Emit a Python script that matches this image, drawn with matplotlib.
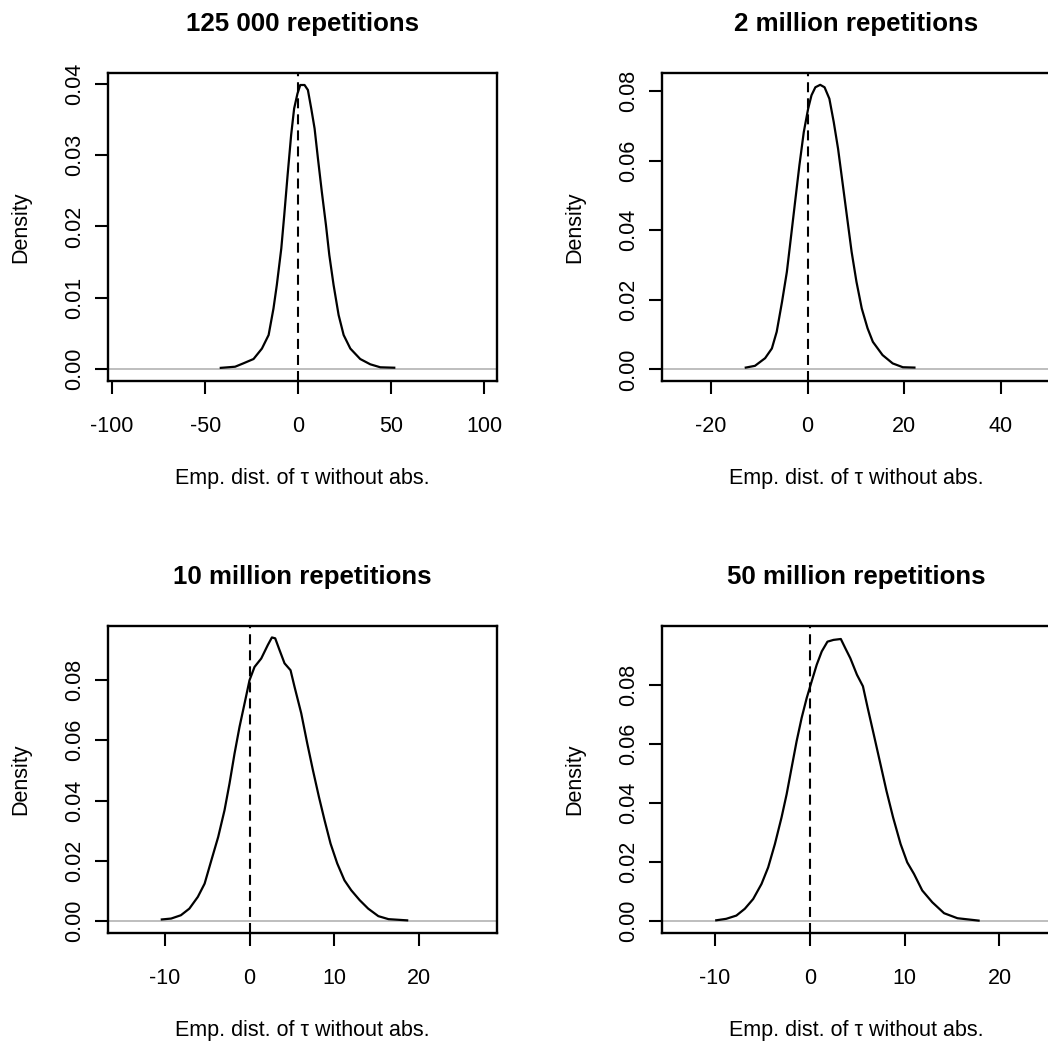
import numpy as np
import matplotlib
matplotlib.use("Agg")
from matplotlib import pyplot as plt

plt.rcParams['font.family'] = ['Liberation Sans', 'DejaVu Sans']
plt.rcParams['axes.unicode_minus'] = False

# Density estimates of tau (no absolute value) for each number of repetitions
titles = ["125 000 repetitions", "2 million repetitions",
          "10 million repetitions", "50 million repetitions"]

x_125k = [-41.6, -33.9, -29.4, -24.0, -19.5, -15.9, -13.3, -11.5, -9.1, -7.5, -5.7, -3.8,
          -2.2, -0.4, 1.1, 3.4, 5.2, 7.0, 8.8, 10.6, 12.7, 14.9, 16.7, 19.0, 21.7, 24.4,
          28.0, 33.3, 38.7, 44.1, 51.6]
y_125k = [0.0002, 0.00036, 0.00084, 0.00144, 0.0029, 0.0048, 0.0085, 0.0118, 0.0169, 0.0216,
          0.0272, 0.0328, 0.0365, 0.0386, 0.0398, 0.0398, 0.0391, 0.0365, 0.0337, 0.0295,
          0.0248, 0.0202, 0.016, 0.0118, 0.0076, 0.0048, 0.0029, 0.00144, 0.0007, 0.00028,
          0.00022]

x_2m = [-12.8, -10.9, -8.8, -7.4, -6.4, -5.3, -4.3, -3.4, -2.6, -1.7, -0.8, 0.1, 0.8, 1.6,
        2.6, 3.5, 4.5, 5.4, 6.3, 7.2, 8.2, 9.1, 10.1, 11.2, 12.4, 13.5, 15.5, 17.6, 19.7, 22.1]
y_2m = [0.0005, 0.001, 0.0032, 0.006, 0.0108, 0.0194, 0.028, 0.0386, 0.0481, 0.0587, 0.0682,
        0.0749, 0.0788, 0.0811, 0.0818, 0.0811, 0.0778, 0.0711, 0.0634, 0.0539, 0.0433,
        0.0338, 0.0252, 0.0175, 0.0118, 0.0079, 0.0041, 0.0017, 0.0006, 0.0005]

x_10m = [-10.35, -9.25, -8.1, -7.1, -6.1, -5.3, -4.5, -3.7, -2.95, -2.36, -1.77, -1.18, -0.5,
         0.0, 0.59, 1.38, 2.16, 2.64, 3.03, 3.54, 4.13, 4.84, 5.31, 6.1, 6.81, 7.48, 8.19,
         8.85, 9.56, 10.35, 11.2, 12.0, 13.0, 14.0, 15.2, 16.4, 18.6]
y_10m = [0.0005, 0.0008, 0.0019, 0.0041, 0.008, 0.0124, 0.0202, 0.0279, 0.0368, 0.0457,
         0.0556, 0.0645, 0.0734, 0.08, 0.0844, 0.0872, 0.0917, 0.0942, 0.0939, 0.09, 0.0856,
         0.0833, 0.0778, 0.069, 0.059, 0.0501, 0.0412, 0.0335, 0.0257, 0.0191, 0.0135,
         0.0102, 0.0069, 0.0041, 0.0016, 0.0006, 0.0002]

x_50m = [-9.85, -8.8, -7.73, -6.84, -5.96, -5.08, -4.38, -3.67, -2.97, -2.43, -1.91, -1.38,
         -0.85, -0.32, 0.21, 0.74, 1.27, 1.87, 2.51, 3.28, 3.75, 4.28, 4.98, 5.61, 6.11,
         6.75, 7.46, 8.09, 8.79, 9.58, 10.28, 10.99, 11.86, 12.92, 14.16, 15.57, 17.8]
y_50m = [0.0003, 0.0008, 0.0019, 0.0042, 0.0075, 0.0126, 0.0182, 0.0261, 0.0351, 0.043,
         0.0519, 0.0609, 0.0688, 0.0755, 0.0812, 0.0868, 0.0913, 0.0946, 0.0952, 0.0955,
         0.0924, 0.089, 0.0834, 0.0795, 0.0722, 0.0632, 0.0531, 0.0441, 0.0351, 0.0261,
         0.0199, 0.016, 0.0104, 0.0064, 0.0027, 0.001, 0.0002]

xs = [x_125k, x_2m, x_10m, x_50m]
ys = [y_125k, y_2m, y_10m, y_50m]

xticks = [[-100, -50, 0, 50, 100], [-20, 0, 20, 40], [-10, 0, 10, 20], [-10, 0, 10, 20]]
yticks = [[0.0, 0.01, 0.02, 0.03, 0.04], [0.0, 0.02, 0.04, 0.06, 0.08],
          [0.0, 0.02, 0.04, 0.06, 0.08], [0.0, 0.02, 0.04, 0.06, 0.08]]
xlims = [(-102.2, 106.8), (-30.2, 50.3), (-16.7, 29.2), (-15.6, 25.4)]
ylims = [(-0.00164, 0.04148), (-0.00336, 0.0852), (-0.0040, 0.0980), (-0.0040, 0.0999)]

W, H = 1048, 1045
fig = plt.figure(figsize=(W / 100, H / 100), dpi=100)

# plot regions in pixels: left, top, width, height (right column runs past the edge)
boxes = [(108, 73, 389, 308), (661.7, 73, 389, 308),
         (108, 626, 389, 307), (661.7, 626, 389, 307)]

for i in range(4):
    l, t, w, h = boxes[i]
    ax = fig.add_axes([l / W, (H - t - h) / H, w / W, h / H])

    ax.plot(xs[i], ys[i], color='black', lw=1.6, zorder=3)
    ax.axhline(0, color='#bebebe', lw=1.4, zorder=2)
    ax.axvline(0, color='black', lw=1.5, dashes=(4.8, 2.9), zorder=2)

    ax.set_xticks(xticks[i])
    ax.set_yticks(yticks[i])
    ax.set_xlim(xlims[i])
    ax.set_ylim(ylims[i])
    ax.set_yticklabels(["%.2f" % v for v in yticks[i]], rotation=90, va='center')

    for s in ax.spines.values():
        s.set_linewidth(1.7)
    ax.tick_params(axis='both', direction='out', length=9.4, width=1.5,
                   labelsize=15.5, colors='black')
    ax.tick_params(axis='x', pad=15.5)
    ax.tick_params(axis='y', pad=7)

    ax.set_title(titles[i], fontsize=18.6, fontweight='bold', pad=30)
    ax.set_xlabel("Emp. dist. of τ without abs.", fontsize=15.5, va='center')
    ax.xaxis.set_label_coords(0.5, -0.318)
    ax.set_ylabel("Density", fontsize=15.5, va='center')
    ax.yaxis.set_label_coords(-0.224, 0.5)

fig.savefig("out.png", dpi=100)
